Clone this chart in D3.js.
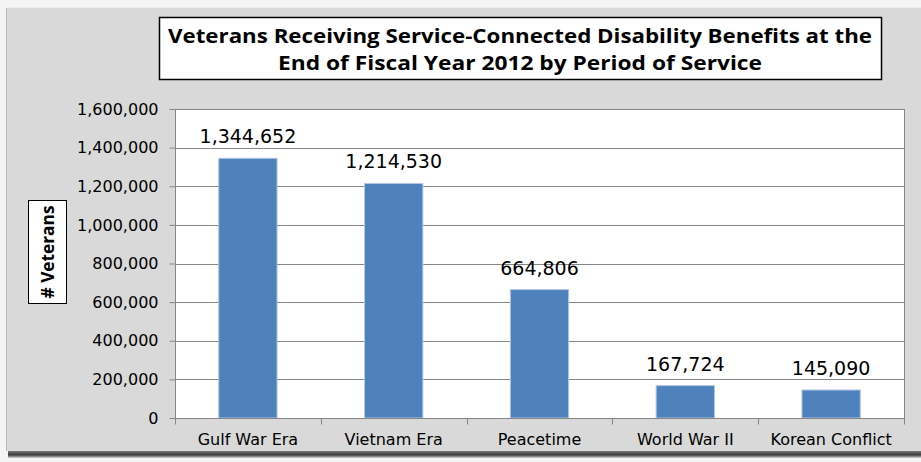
<!DOCTYPE html>
<html>
<head>
<meta charset="utf-8">
<script src="https://cdn.jsdelivr.net/npm/d3@7"></script>
<style>
  html, body { margin: 0; padding: 0; background: #ffffff; }
  svg { display: block; }
</style>
</head>
<body>
<svg id="chart"></svg>
<script>
// chart data
const categories = ["Gulf War Era", "Vietnam Era", "Peacetime", "World War II", "Korean Conflict"];
const veterans = [1344652, 1214530, 664806, 167724, 145090];
const yTicks = [0, 200000, 400000, 600000, 800000, 1000000, 1200000, 1400000, 1600000];
const titleLines = [
  "Veterans Receiving Service-Connected Disability Benefits at the",
  "End of Fiscal Year 2012 by Period of Service"
];
const yTitle = "# Veterans";

const w = 921, h = 462;
const svg = d3.select("#chart").attr("width", w).attr("height", h);

// drop shadow under the frame
const defs = svg.append("defs");
const grad = defs.append("linearGradient").attr("id", "shadow").attr("x1", 0).attr("y1", 0).attr("x2", 0).attr("y2", 1);
grad.append("stop").attr("offset", "0%").attr("stop-color", "#8a8a8a");
grad.append("stop").attr("offset", "60%").attr("stop-color", "#3a3a3a");
grad.append("stop").attr("offset", "100%").attr("stop-color", "#cfd3d8");

svg.append("rect").attr("x", 0).attr("y", 0).attr("width", w).attr("height", h).attr("fill", "#f4f4f4");
svg.append("rect").attr("x", 8).attr("y", 450).attr("width", w - 8).attr("height", 8).attr("fill", "url(#shadow)");
svg.append("rect")
  .attr("x", 6).attr("y", 7).attr("width", w - 6).attr("height", 444)
  .attr("fill", "#d9d9d9");
svg.append("line").attr("x1", 6.5).attr("x2", 6.5).attr("y1", 7).attr("y2", 451).attr("stroke", "#bdbdbd");
svg.append("line").attr("x1", 6).attr("x2", w).attr("y1", 7.5).attr("y2", 7.5).attr("stroke", "#ececec");

// plot area
const plot = { left: 175, right: 904, top: 109, bottom: 418 };

const x = d3.scaleBand()
  .domain(categories)
  .range([plot.left, plot.right])
  .paddingInner(0.6)
  .paddingOuter(0.3);

const y = d3.scaleLinear()
  .domain([0, 1600000])
  .range([plot.bottom, plot.top]);

svg.append("rect")
  .attr("x", plot.left).attr("y", plot.top)
  .attr("width", plot.right - plot.left).attr("height", plot.bottom - plot.top)
  .attr("fill", "#ffffff");

// gridlines
svg.append("g")
  .selectAll("line")
  .data(yTicks)
  .enter()
  .append("line")
  .attr("x1", plot.left).attr("x2", plot.right)
  .attr("y1", (d) => Math.round(y(d)) + 0.5)
  .attr("y2", (d) => Math.round(y(d)) + 0.5)
  .attr("stroke", "#868686");

// right border of plot area
svg.append("line")
  .attr("x1", plot.right + 0.5).attr("x2", plot.right + 0.5)
  .attr("y1", plot.top).attr("y2", plot.bottom)
  .attr("stroke", "#868686");

// bars
svg.append("g")
  .selectAll("rect")
  .data(veterans)
  .enter()
  .append("rect")
  .attr("x", (d, i) => x(categories[i]))
  .attr("y", (d) => y(d))
  .attr("width", x.bandwidth())
  .attr("height", (d) => plot.bottom - y(d))
  .attr("fill", "#4f81bd")
  .attr("stroke", "#b4c8e2")
  .attr("stroke-width", 1);

// value labels
svg.append("g")
  .selectAll("text")
  .data(veterans)
  .enter()
  .append("text")
  .attr("x", (d, i) => x(categories[i]) + x.bandwidth() / 2)
  .attr("y", (d) => y(d) - 15)
  .attr("text-anchor", "middle")
  .style("font-family", "DejaVu Sans")
  .style("font-size", "19px")
  .attr("fill", "#000")
  .text((d) => d3.format(",")(d));

// y axis
const yAxis = d3.axisLeft(y).tickValues(yTicks).tickFormat(d3.format(",")).tickSize(6).tickPadding(11);
const gy = svg.append("g")
  .attr("transform", "translate(" + (plot.left + 0.5) + ",0)")
  .call(yAxis);
gy.select(".domain").attr("stroke", "#868686").attr("d", "M0," + plot.top + "V" + (plot.bottom + 6));
gy.selectAll(".tick line").attr("stroke", "#868686");
gy.selectAll(".tick text")
  .style("font-family", "DejaVu Sans")
  .style("font-size", "16px")
  .attr("fill", "#000");

// x axis: ticks on category boundaries
const gx = svg.append("g").attr("transform", "translate(0," + (plot.bottom + 0.5) + ")");
gx.append("line").attr("x1", plot.left).attr("x2", plot.right + 1).attr("stroke", "#868686");
const step = x.step();
const bounds = categories.map((c, i) => x(c) - x.paddingInner() * step / 2 + step);
gx.selectAll(".bt")
  .data([plot.left].concat(bounds))
  .enter()
  .append("line")
  .attr("x1", (d) => Math.round(d) + 0.5).attr("x2", (d) => Math.round(d) + 0.5)
  .attr("y1", 0).attr("y2", 6)
  .attr("stroke", "#868686");
gx.selectAll("text")
  .data(categories)
  .enter()
  .append("text")
  .attr("x", (d) => x(d) + x.bandwidth() / 2)
  .attr("y", 26)
  .attr("text-anchor", "middle")
  .style("font-family", "DejaVu Sans")
  .style("font-size", "16px")
  .attr("fill", "#000")
  .text((d) => d);

// title box
svg.append("rect")
  .attr("x", 159.5).attr("y", 17.5).attr("width", 722).attr("height", 62)
  .attr("fill", "#fff").attr("stroke", "#000").attr("stroke-width", 1.5);
svg.append("g")
  .selectAll("text")
  .data(titleLines)
  .enter()
  .append("text")
  .attr("x", 520)
  .attr("y", (d, i) => 43 + i * 27)
  .attr("text-anchor", "middle")
  .attr("textLength", (d, i) => (i === 0 ? 704 : 484))
  .attr("lengthAdjust", "spacingAndGlyphs")
  .style("font-family", "Open Sans")
  .style("font-weight", "bold")
  .style("font-size", "20px")
  .attr("fill", "#000")
  .text((d) => d);

// y axis title box
svg.append("rect")
  .attr("x", 28.5).attr("y", 200.5).attr("width", 38).attr("height", 103)
  .attr("fill", "#fff").attr("stroke", "#000").attr("stroke-width", 1);
svg.append("text")
  .attr("transform", "translate(54,252) rotate(-90)")
  .attr("text-anchor", "middle")
  .attr("textLength", 93)
  .attr("lengthAdjust", "spacingAndGlyphs")
  .style("font-family", "Open Sans")
  .style("font-weight", "bold")
  .style("font-size", "18px")
  .attr("fill", "#000")
  .text(yTitle);
</script>
</body>
</html>
